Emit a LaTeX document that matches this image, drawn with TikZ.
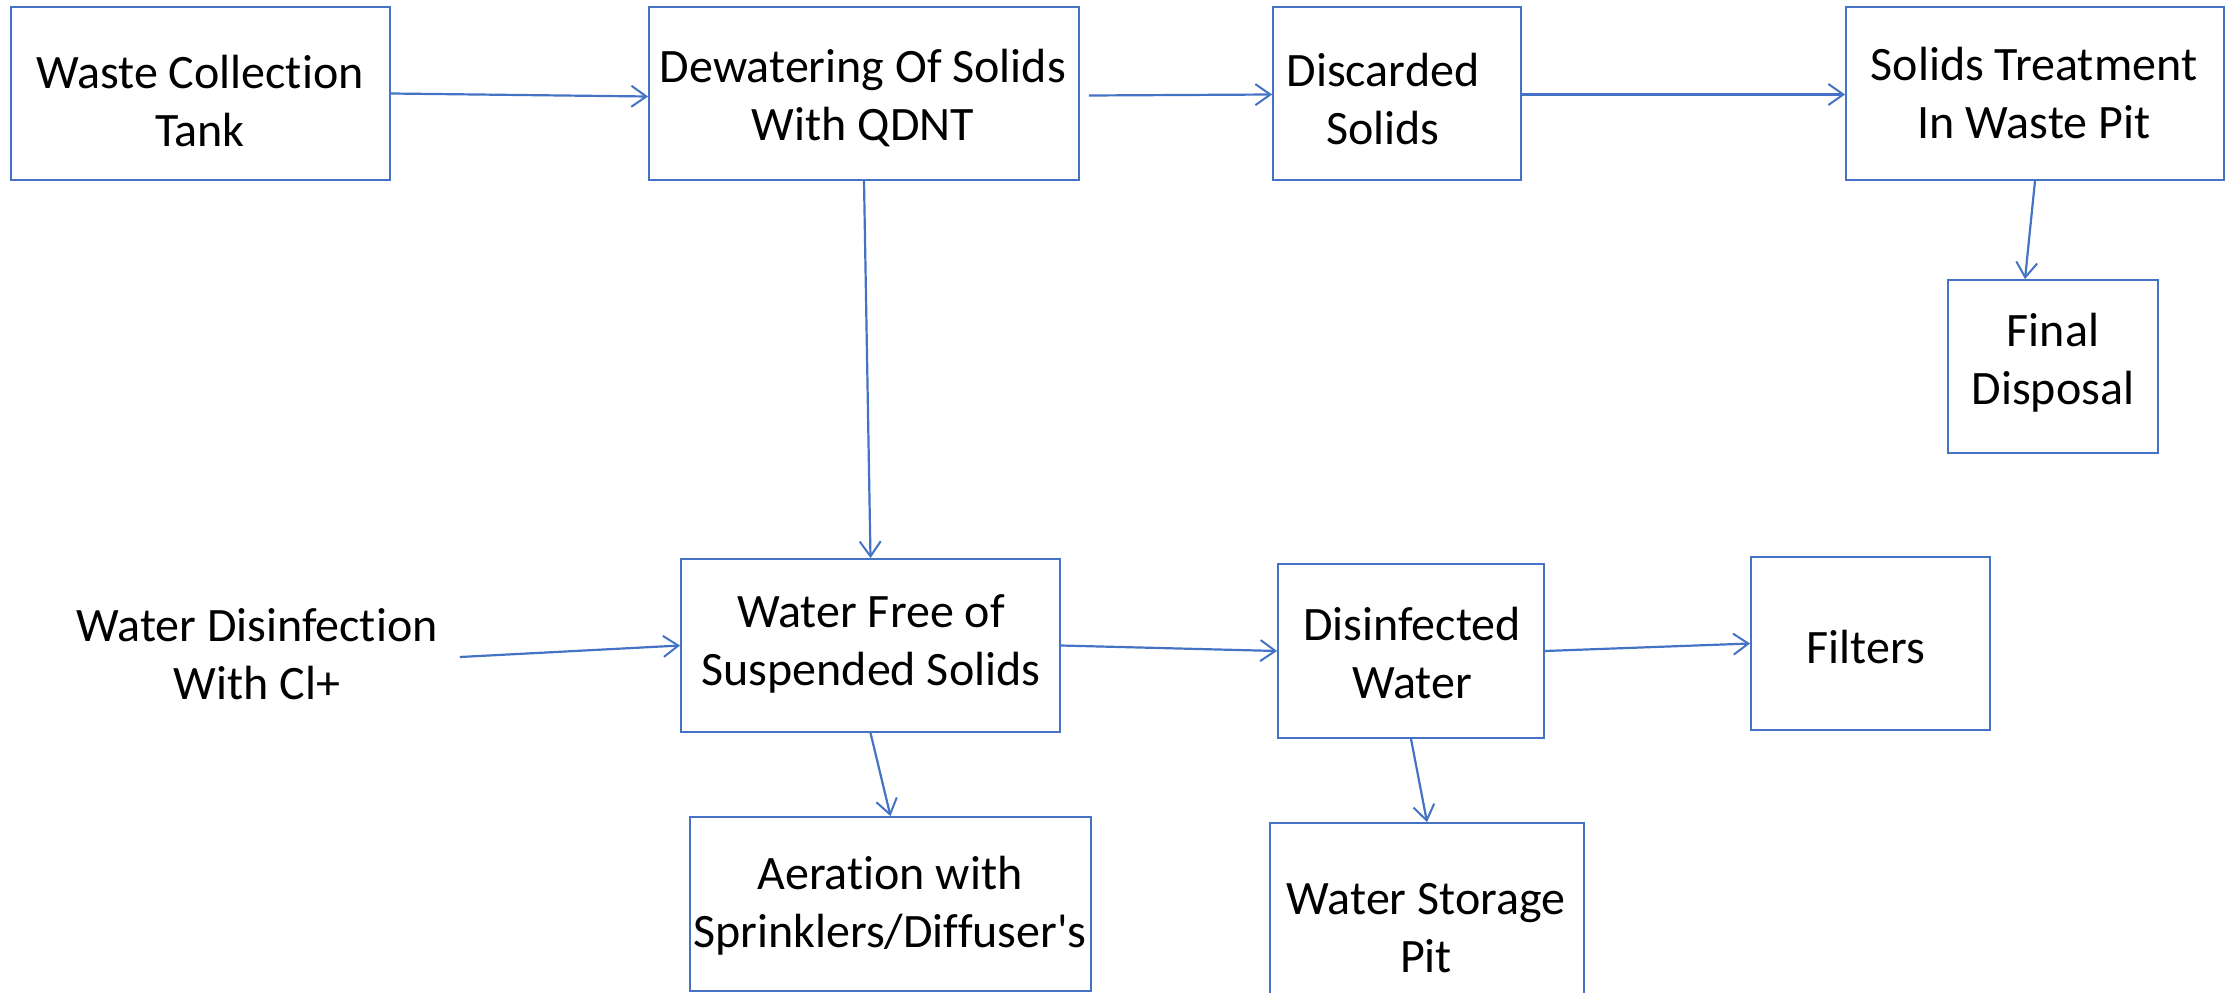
\documentclass[tikz,border=0pt]{standalone}
\usepackage{fontspec}
\setmainfont{Carlito}[Ligatures={NoCommon}]
\usetikzlibrary{arrows.meta}
\definecolor{lineblue}{HTML}{4472C4}
\tikzset{
  box/.style={draw=lineblue, line width=1.8pt, rectangle, inner sep=0pt},
  txt/.style={align=center, inner sep=0pt, font=\fontsize{48}{58}\selectfont},
  conn/.style={draw=lineblue, line width=2.2pt, -{Straight Barb[length=15pt,width=21pt,line width=2pt]}}
}
\begin{document}
\begin{tikzpicture}[x=1pt,y=-1pt]
\useasboundingbox (0,0) rectangle (2225,993);
% boxes
\node[box, minimum width=379pt, minimum height=173pt] (n1) at (200.5,93.5) {};
\node[box, minimum width=430pt, minimum height=173pt] (n2) at (864,93.5) {};
\node[box, minimum width=248pt, minimum height=173pt] (n3) at (1397,93.5) {};
\node[box, minimum width=378pt, minimum height=173pt] (n4) at (2035,93.5) {};
\node[box, minimum width=210pt, minimum height=173pt] (n5) at (2053,366.5) {};
\node[box, minimum width=379pt, minimum height=173pt] (n6) at (870.5,645.5) {};
\node[box, minimum width=266pt, minimum height=174pt] (n7) at (1411,651) {};
\node[box, minimum width=239pt, minimum height=173pt] (n8) at (1870.5,643.5) {};
\node[box, minimum width=401pt, minimum height=174pt] (n9) at (890.5,904) {};
\node[box, minimum width=314pt, minimum height=200pt] (n10) at (1427,923) {};
% texts
\node[txt] (t1) at (200,101) {Waste Collection\\Tank};
\node[txt] (t2) at (863,98) {Dewatering Of Solids\\With QDNT};
\node[txt] (t3) at (1383,99) {Discarded\\Solids};
\node[txt] (t4) at (2034,93) {Solids Treatment\\In Waste Pit};
\node[txt] (t5) at (2053,363) {Final\\Disposal};
\node[txt] (wd) at (257,654) {Water Disinfection\\With Cl+};
\node[txt] (t6) at (871,644) {Water Free of\\Suspended Solids};
\node[txt] (t7) at (1412,653) {Disinfected\\Water};
\node[txt] (t8) at (1866,647) {Filters};
\node[txt] (t9) at (890,906) {Aeration with\\Sprinklers/Diffuser\textquotesingle s};
\node[txt] (t10) at (1426,928) {Water Storage\\Pit};
% connectors
\draw[conn] (n1.east) -- ([yshift=-3pt]n2.west);
\draw[conn] ([xshift=9pt,yshift=-2pt]n2.east) -- ([yshift=-1pt]n3.west);
\draw[conn] ([yshift=-1pt]n3.east) -- ([yshift=-1pt]n4.west);
\draw[conn] (n4.south) -- ([xshift=-28pt]n5.north);
\draw[conn] (n2.south) -- (n6.north);
\draw[conn] ([xshift=22pt,yshift=-3pt]wd.east) -- (n6.west);
\draw[conn] (n6.east) -- (n7.west);
\draw[conn] (n7.east) -- (n8.west);
\draw[conn] (n6.south) -- (n9.north);
\draw[conn] (n7.south) -- (n10.north);
\end{tikzpicture}
\end{document}
